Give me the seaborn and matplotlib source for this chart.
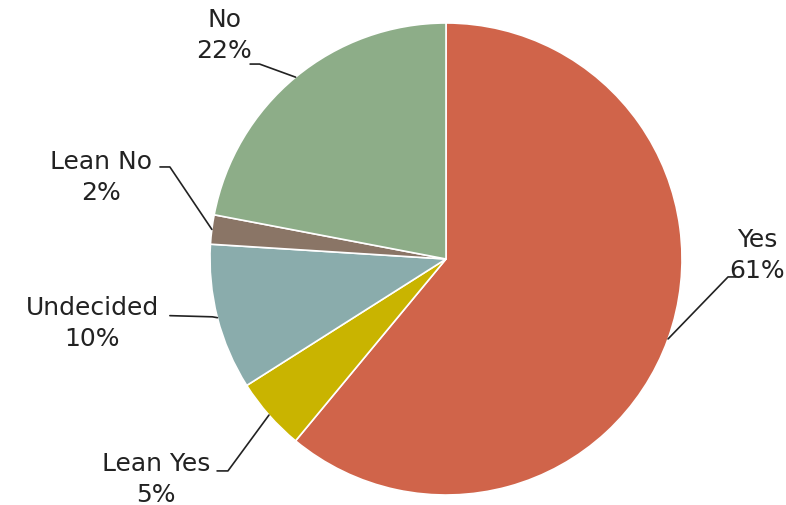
import matplotlib
matplotlib.use('Agg')
from matplotlib import pyplot as plt
import numpy as np
import seaborn as sns

labels = ['Yes', 'Lean Yes', 'Undecided', 'Lean No', 'No']
shares = [61, 5, 10, 2, 22]
colors = ['#D0644A', '#C9B400', '#8AACAC', '#8A7566', '#8DAD88']

# label text positions and elbow of leader line (data coords, radius = 1)
text_pos = [(1.32, 0.02), (-1.23, -0.93), (-1.50, -0.27), (-1.46, 0.35), (-0.94, 0.95)]
elbow = [(1.195, -0.076), (-0.924, -0.898), (-0.99, -0.245), (-1.17, 0.39), (-0.79, 0.826)]
line_end = [(1.229, -0.076), (-0.97, -0.898), (-1.17, -0.24), (-1.212, 0.39), (-0.83, 0.826)]

sns.set_style('white')
plt.rcParams['font.family'] = ['DejaVu Sans']

fig = plt.figure(figsize=(7.86, 5.06), dpi=100)
ax = fig.add_axes([0, 0, 1, 1])

wedges, _ = ax.pie(shares, colors=colors, startangle=90, counterclock=False,
                   radius=1, wedgeprops=dict(edgecolor='white', linewidth=1.2))

for i, w in enumerate(wedges):
    mid = np.deg2rad((w.theta1 + w.theta2) / 2)
    px, py = np.cos(mid), np.sin(mid)
    ax.plot([px, elbow[i][0], line_end[i][0]], [py, elbow[i][1], line_end[i][1]],
            color='#222222', lw=1.2)
    ax.text(text_pos[i][0], text_pos[i][1], f'{labels[i]}\n{shares[i]}%',
            ha='center', va='center', fontsize=18, color='#222222', linespacing=1.35)

ax.set_xlim(-446 / 236, 340 / 236)
ax.set_ylim(-246 / 236, 260 / 236)
ax.set_aspect('equal')
ax.axis('off')

fig.savefig('out.png', dpi=100)
